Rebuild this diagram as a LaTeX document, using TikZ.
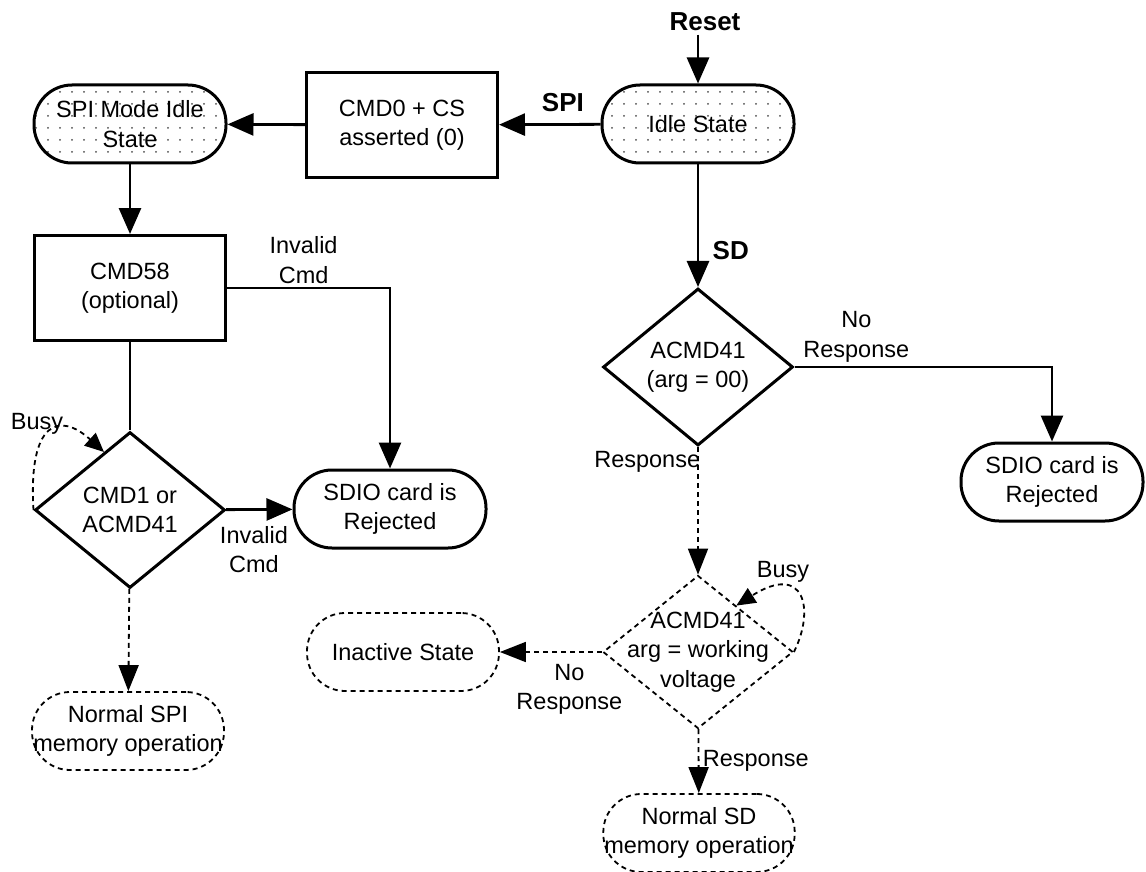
\documentclass[tikz,border=0pt]{standalone}
\usepackage{fontspec}
\setmainfont{Liberation Sans}
\usetikzlibrary{shapes.geometric,arrows.meta,patterns.meta,calc}

\begin{document}
\begin{tikzpicture}[x=1pt, y=-1pt,
        font=\fontsize{23.5}{29.5}\selectfont,
        every node/.style={align=center},
        boldlbl/.style={font=\fontsize{26}{30}\selectfont\bfseries},
        term/.style={draw, line width=3pt, rectangle, rounded corners=38pt,
            minimum width=192pt, minimum height=78pt, inner xsep=1pt},
        termdash/.style={term, line width=1.8pt, dash pattern=on 5pt off 4pt},
        idlefill/.style={pattern={Dots[distance=12pt, radius=1pt]}, pattern color=black!70},
        box/.style={draw, line width=3pt, minimum width=191pt, minimum height=105pt},
        decision/.style={draw, diamond, line width=3pt, inner sep=0pt,
            minimum width=190pt, minimum height=156pt},
        decdash/.style={decision, line width=1.8pt, dash pattern=on 5pt off 4pt},
        link/.style={line width=2.8pt},
        arr/.style={link, -{Triangle[length=26pt, width=22pt]}},
        dsharr/.style={line width=1.8pt, dash pattern=on 5pt off 4pt,
            -{Triangle[length=26pt, width=20pt]}},
        busyarr/.style={line width=1.8pt, dash pattern=on 5pt off 4pt,
            -{Triangle[length=19pt, width=17pt]}}]
        \useasboundingbox (0,0) rectangle (1146,872);

        % SPI side
        \node[boldlbl] (reset) at (705,22) {Reset};
        \node[term, idlefill] (idle) at (698,124) {Idle State};
        \node[box] (cmd0) at (402,125) {CMD0 + CS\\asserted (0)};
        \node[term, idlefill] (spiidle) at (130,124) {SPI Mode Idle\\State};
        \node[box] (cmd58) at (130,288) {CMD58\\(optional)};
        \node[decision, label=center:{CMD1 or\\ACMD41}] (cmd1) at (130,510) {};
        \node[term] (rejspi) at (390,509) {SDIO card is\\Rejected};
        \node[termdash] (normspi) at (128,731) {Normal SPI\\memory operation};
        \node[termdash] (inactive) at (403,652) {Inactive State};

        % SD side
        \node[decision, minimum height=157pt, label=center:{ACMD41\\(arg = 00)}] (acmdzero) at (698,367) {};
        \node[term, minimum width=182pt] (rejsd) at (1052,482) {SDIO card is\\Rejected};
        \node[decdash, minimum height=153pt, label=center:{ACMD41\\arg = working\\voltage}] (acmdvolt) at (698,652) {};
        \node[termdash, minimum width=188pt] (normsd) at (699,833) {Normal SD\\memory operation};

        \node (busyspi) at (37,424) {Busy};
        \node (busysd) at (783,572) {Busy};
        \coordinate (tipspi) at ($(cmd1.north)!0.27!(cmd1.west)$);
        \coordinate (tipsd) at ($(acmdvolt.north)!0.4!(acmdvolt.east)$);

        \draw[arr] (reset.south -| idle.north) -- (idle.north);
        \draw[arr] (idle) -- node[above=8pt, pos=0.37, boldlbl] {SPI} (cmd0);
        \draw[arr] (cmd0) -- (spiidle);
        \draw[arr] (spiidle) -- (cmd58);
        \draw[arr] (cmd58.east) -| node[above, pos=0.235] {Invalid\\Cmd} (rejspi.north);
        \draw[link] (cmd58) -- (cmd1);
        \draw[arr] (cmd1) -- node[below=12pt, pos=0.42] {Invalid\\Cmd} (rejspi);
        \draw[busyarr] (cmd1.west) .. controls (28,420) and (60,412) .. (tipspi);
        \draw[dsharr] (cmd1) -- (normspi);

        \draw[arr] (idle) -- node[right=10pt, pos=0.7, boldlbl] {SD} (acmdzero);
        \draw[arr] (acmdzero.east) -| node[above, pos=0.12] {No\\Response} (rejsd.north);
        \draw[dsharr] (acmdzero) -- node[below left, pos=0, inner xsep=0pt, xshift=3pt] {Response} (acmdvolt);
        \draw[busyarr] (acmdvolt.east) .. controls (815,610) and (805,562) .. (tipsd);
        \draw[dsharr] (acmdvolt) -- node[below=8pt, pos=0.32] {No\\Response} (inactive);
        \draw[dsharr] (acmdvolt) -- node[right, pos=0.5] {Response} (normsd);
    \end{tikzpicture}
\end{document}
